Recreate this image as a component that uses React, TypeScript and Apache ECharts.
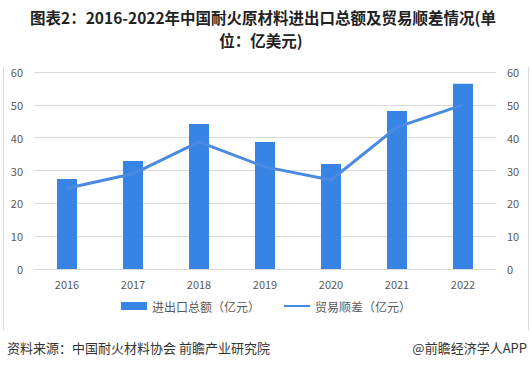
import React, { useEffect, useRef } from "react";
import * as echarts from "echarts";

const years = ["2016", "2017", "2018", "2019", "2020", "2021", "2022"];
const totalTrade = [27.4, 32.9, 44.2, 38.7, 32.0, 48.1, 56.4];
const tradeSurplus = [24.6, 29.0, 38.7, 31.1, 27.1, 43.2, 50.0];
const barName = "进出口总额（亿元）";
const lineName = "贸易顺差（亿元）";
const titleLine1 = "图表2：2016-2022年中国耐火原材料进出口总额及贸易顺差情况(单";
const titleLine2 = "位：亿美元)";
const sourceText = "资料来源：中国耐火材料协会 前瞻产业研究院";
const brandText = "@前瞻经济学人APP";

const FONT = "'Noto Sans CJK SC', 'Noto Sans', sans-serif";

export default function App() {
  const ref = useRef<HTMLDivElement>(null);
  useEffect(() => {
    if (!ref.current) return;
    const chart = echarts.init(ref.current, null, { renderer: "svg" });
    const titleStyle = {
      fontFamily: FONT,
      fontSize: 15.5,
      fontWeight: "bold",
      fill: "#222222",
      textAlign: "center",
      textVerticalAlign: "middle",
    };
    chart.setOption({
      animation: false,
      backgroundColor: "#ffffff",
      textStyle: { fontFamily: FONT },
      grid: { left: 34, right: 36, top: 72, bottom: 100, containLabel: false },
      legend: {
        bottom: 52,
        left: "center",
        itemGap: 24,
        itemWidth: 26,
        itemHeight: 8,
        textStyle: { fontFamily: FONT, fontSize: 12, color: "#595959" },
        data: [
          { name: barName, icon: "rect" },
          { name: lineName, icon: "path://M0,3.5 L26,3.5 L26,5.5 L0,5.5 Z" },
        ],
      },
      xAxis: {
        type: "category",
        data: years,
        axisLine: { lineStyle: { color: "#d9d9d9" } },
        axisTick: { show: false },
        axisLabel: { color: "#595959", fontSize: 11, margin: 9, fontFamily: FONT },
      },
      yAxis: [
        {
          type: "value",
          min: 0,
          max: 60,
          interval: 10,
          axisLine: { show: false },
          axisTick: { show: false },
          axisLabel: { color: "#595959", fontSize: 11, margin: 11, fontFamily: FONT },
          splitLine: { lineStyle: { color: "#d9d9d9" } },
        },
        {
          type: "value",
          min: 0,
          max: 60,
          interval: 10,
          position: "right",
          axisLine: { show: false },
          axisTick: { show: false },
          axisLabel: { color: "#595959", fontSize: 11, margin: 11, fontFamily: FONT },
          splitLine: { show: false },
        },
      ],
      series: [
        {
          name: barName,
          type: "bar",
          data: totalTrade,
          barWidth: 20,
          itemStyle: { color: "#3884e4" },
        },
        {
          name: lineName,
          type: "line",
          yAxisIndex: 1,
          data: tradeSurplus,
          symbol: "none",
          lineStyle: { color: "#4a8ae2", width: 3 },
          itemStyle: { color: "#4a8ae2" },
        },
      ],
      graphic: [
        {
          type: "text",
          x: 263,
          y: 16.5,
          style: { ...titleStyle, text: titleLine1 },
        },
        {
          type: "text",
          x: 261,
          y: 39.5,
          style: { ...titleStyle, text: titleLine2 },
        },
        {
          type: "line",
          shape: { x1: 3.5, y1: 67, x2: 3.5, y2: 330 },
          style: { stroke: "#d9d9d9", lineWidth: 1 },
        },
        {
          type: "line",
          shape: { x1: 528.5, y1: 67, x2: 528.5, y2: 330 },
          style: { stroke: "#d9d9d9", lineWidth: 1 },
        },
        {
          type: "text",
          left: 7,
          top: 341,
          style: { text: sourceText, fontFamily: FONT, fontSize: 13, fill: "#333333" },
        },
        {
          type: "text",
          right: 5,
          top: 341,
          style: { text: brandText, fontFamily: FONT, fontSize: 13, fill: "#333333" },
        },
      ],
    });
    return () => chart.dispose();
  }, []);
  return <div ref={ref} style={{ width: 532, height: 369, position: "fixed", left: 0, top: 0 }} />;
}
